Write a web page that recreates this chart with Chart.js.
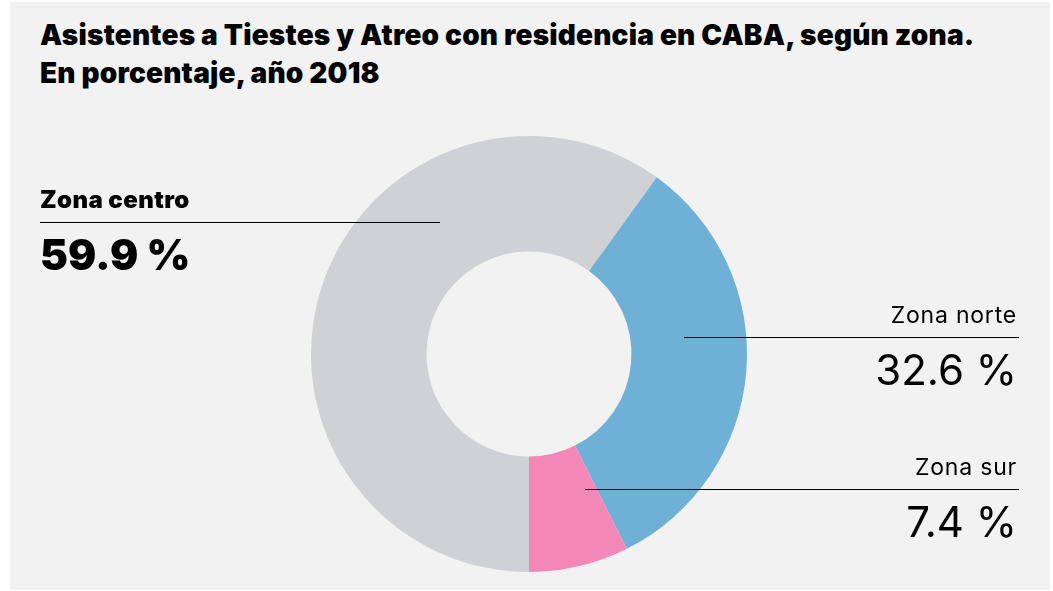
<!DOCTYPE html>
<html>
<head>
<meta charset="utf-8">
<script src="https://cdn.jsdelivr.net/npm/chart.js@4"></script>
<style>
  html, body { margin: 0; padding: 0; background: #fff; }
  #panel { position: absolute; left: 10px; top: 2px; width: 1040px; height: 588px; background: #f2f2f2; }
  #titulo { position: absolute; left: 40px; top: 16px; font-family: Inter, sans-serif; font-weight: 900;
            font-size: 28px; line-height: 38px; letter-spacing: 0.2px; color: #000; white-space: nowrap; }
  #grafico { position: absolute; left: 0; top: 0; }
</style>
</head>
<body>
<div id="panel"></div>
<div id="titulo">Asistentes a Tiestes y Atreo con residencia en CABA, según zona.<br>En porcentaje, año 2018</div>
<canvas id="grafico" width="1053" height="591"></canvas>
<script>
const zonas = ["Zona centro", "Zona norte", "Zona sur"];
const porcentajes = [59.9, 32.6, 7.4];
const colores = ["#d0d1d5", "#6fb1d6", "#f387b7"];

// donde va cada rótulo (texto, línea guía, valor)
const rotulos = [
  { align: "left",  x: 40,   y: 222, x0: 40,  x1: 440,  bold: true },
  { align: "right", x: 1017, y: 337, x0: 684, x1: 1019, bold: false },
  { align: "right", x: 1017, y: 489, x0: 585, x1: 1019, bold: false }
];

const pluginRotulos = {
  id: "rotulos",
  afterDraw(chart) {
    const ctx = chart.ctx;
    ctx.save();
    rotulos.forEach((r, i) => {
      ctx.strokeStyle = "#000";
      ctx.lineWidth = 1.2;
      ctx.beginPath();
      ctx.moveTo(r.x0, r.y + 0.5);
      ctx.lineTo(r.x1, r.y + 0.5);
      ctx.stroke();

      ctx.fillStyle = "#000";
      ctx.textAlign = r.align;
      ctx.textBaseline = "alphabetic";
      ctx.letterSpacing = r.bold ? "0.4px" : "0.8px";
      ctx.font = (r.bold ? "900 24px" : "400 23px") + " Inter, sans-serif";
      ctx.fillText(zonas[i], r.x, r.y - 14);
      ctx.letterSpacing = "0px";
      ctx.font = (r.bold ? "900 42px" : "400 42px") + " Inter, sans-serif";
      ctx.fillText(porcentajes[i].toFixed(1) + " %", r.x, r.y + 48);
    });
    ctx.restore();
  }
};

new Chart(document.getElementById("grafico"), {
  type: "doughnut",
  data: {
    labels: zonas,
    datasets: [{
      data: porcentajes,
      backgroundColor: colores,
      borderWidth: 0,
      hoverOffset: 0
    }]
  },
  options: {
    responsive: false,
    animation: false,
    rotation: 180,
    cutout: "47%",
    layout: { padding: { left: 311, right: 306, top: 136, bottom: 19 } },
    plugins: {
      legend: { display: false },
      tooltip: { enabled: false }
    }
  },
  plugins: [pluginRotulos]
});
</script>
</body>
</html>
